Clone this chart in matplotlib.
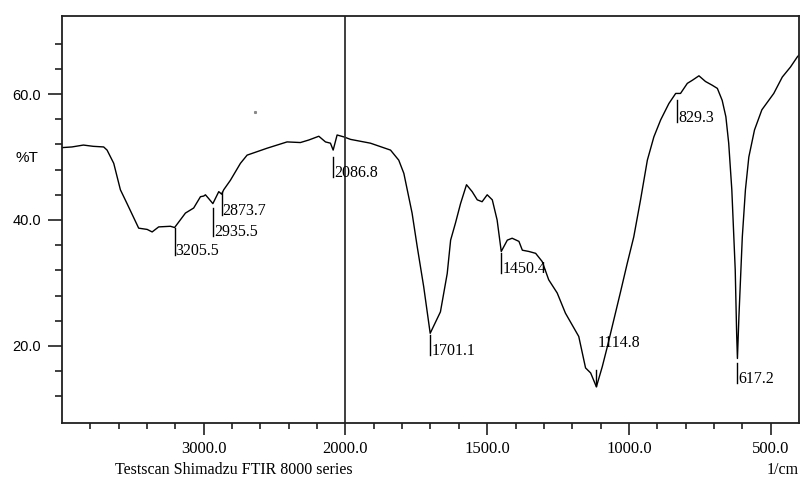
import numpy as np
import matplotlib
matplotlib.use("Agg")
import matplotlib.pyplot as plt
from matplotlib.ticker import FixedLocator, FixedFormatter
from matplotlib.transforms import offset_copy

# ---------------- data ----------------
wavenumber = [3996, 3930, 3849, 3780, 3706, 3682, 3635, 3588, 3541, 3459, 3399, 3364,
              3318, 3235, 3205.5, 3129, 3071, 3023, 3000, 2988, 2965, 2935.5, 2894,
              2873.7, 2859, 2812, 2741, 2694, 2553, 2412, 2318, 2259, 2188, 2141, 2106,
              2086.8, 2059, 2012, 1982, 1912, 1841, 1812, 1794, 1765, 1747, 1724,
              1701.1, 1665, 1641, 1629, 1612, 1594, 1573, 1553, 1535, 1518, 1500, 1482,
              1465, 1450.4, 1429, 1412, 1388, 1376, 1353, 1329, 1306, 1283, 1253, 1224,
              1177, 1153, 1135, 1114.8, 1094, 1076, 1053, 1030, 1006, 983, 959, 935,
              912, 888, 859, 835, 818, 794, 776, 753, 730, 706, 688, 671, 658, 648, 637,
              625, 620, 617.2, 612, 600, 589, 577, 557, 531, 489, 459, 430, 406, 400]
transmittance = [51.5, 51.6, 51.9, 51.7, 51.6, 51.1, 49.0, 44.8, 42.6, 38.7, 38.5, 38.1,
                 38.9, 39.0, 38.8, 41.1, 41.9, 43.7, 43.8, 44.0, 43.4, 42.6, 44.5,
                 44.1, 44.8, 46.3, 49.0, 50.3, 51.4, 52.4, 52.3, 52.7, 53.3, 52.4, 52.2,
                 51.1, 53.5, 53.2, 52.8, 52.2, 51.1, 49.5, 47.4, 41.1, 35.8, 29.4,
                 22.0, 25.4, 31.5, 36.8, 39.5, 42.6, 45.6, 44.5, 43.2, 42.9, 44.0, 43.2,
                 40.0, 35.0, 36.8, 37.1, 36.6, 35.2, 35.0, 34.7, 33.4, 30.5, 28.4, 25.2,
                 21.5, 16.5, 15.7, 13.5, 16.7, 19.9, 24.2, 28.5, 33.1, 37.3, 43.2, 49.5,
                 53.2, 55.9, 58.5, 60.1, 60.1, 61.7, 62.2, 62.9, 62.0, 61.4, 60.9, 59.0,
                 56.4, 52.2, 44.8, 32.1, 22.0, 18.0, 24.6, 37.3, 44.8, 50.0, 54.3, 57.5,
                 60.1, 62.7, 64.3, 65.9, 66.2]

peak_labels = ["3205.5", "2935.5", "2873.7", "2086.8", "1701.1", "1450.4",
               "1114.8", "829.3", "617.2"]
peak_positions = [3205.5, 2935.5, 2873.7, 2086.8, 1701.1, 1450.4, 1114.8, 829.3, 617.2]

x_major = [3000, 2000, 1500, 1000, 500]
x_major_labels = ["3000.0", "2000.0", "1500.0", "1000.0", "500.0"]
y_major = [20, 40, 60]
y_major_labels = ["20.0", "40.0", "60.0"]

# label marker geometry (line top, line bottom, text baseline) in %T units
label_line_top = [38.7, 41.9, 44.4, 50.0, 21.7, 34.8, 16.2, 59.0, 17.3]
label_line_bot = [34.4, 37.5, 40.8, 46.8, 18.6, 31.6, 13.7, 55.6, 14.1]
label_text_y = [34.4, 37.5, 40.8, 46.8, 18.6, 31.6, 19.8, 55.6, 14.1]

# ---------------- scale: 2x expansion below 2000 1/cm ----------------
def fwd(w):
    w = np.asarray(w, dtype=float)
    return np.where(w > 2000, 2000 + (w - 2000) / 2.0, w)

def inv(u):
    u = np.asarray(u, dtype=float)
    return np.where(u > 2000, 2000 + (u - 2000) * 2.0, u)

fig = plt.figure(figsize=(8.0, 4.78), dpi=100)
ax = fig.add_axes([62 / 800, 1 - 422.7 / 478, (799 - 62) / 800, (422.7 - 16) / 478])
ax.set_xscale("function", functions=(fwd, inv))
ax.set_xlim(4000, 400)
ax.set_ylim(7.8, 72.4)

ax.plot(wavenumber, transmittance, color="black", lw=1.0)
ax.axvline(2000, color="#303030", lw=1.3)

# stray dot in original scan
ax.plot([2635], [57.2], marker="s", ms=1.2, color="#888888", ls="none")

serif = "Liberation Serif"
sans = "Liberation Sans"

tr = offset_copy(ax.transData, fig=fig, x=1.0, y=0, units="dots")
for lab, w, t0, t1, ty in zip(peak_labels, peak_positions, label_line_top,
                              label_line_bot, label_text_y):
    ax.plot([w, w], [t0, t1], color="black", lw=1.0)
    ax.text(w, ty, lab, transform=tr, ha="left", va="baseline",
            fontsize=11.5, family=serif, color="black")

for s in ax.spines.values():
    s.set_color("#202020")
    s.set_linewidth(1.3)

ax.xaxis.set_major_locator(FixedLocator(x_major))
ax.xaxis.set_major_formatter(FixedFormatter(x_major_labels))
x_minor = [w for w in list(range(3800, 2000, -200)) + list(range(1900, 400, -100))
           if w not in x_major]
ax.xaxis.set_minor_locator(FixedLocator(x_minor))

ax.yaxis.set_major_locator(FixedLocator(y_major))
ax.yaxis.set_major_formatter(FixedFormatter(y_major_labels))
y_minor = [v for v in range(12, 72, 4) if v not in y_major]
ax.yaxis.set_minor_locator(FixedLocator(y_minor))

ax.tick_params(axis="x", which="major", direction="out", length=8.5, width=1.2,
               color="#202020", pad=5)
ax.tick_params(axis="x", which="minor", direction="out", length=4.3, width=1.2,
               color="#202020")
ax.tick_params(axis="y", which="major", direction="out", length=10, width=1.2,
               color="#202020", pad=5)
ax.tick_params(axis="y", which="minor", direction="out", length=5, width=1.2,
               color="#202020")

for lab in ax.get_xticklabels():
    lab.set_fontfamily(serif)
    lab.set_fontsize(12)
for lab in ax.get_yticklabels():
    lab.set_fontfamily(sans)
    lab.set_fontsize(10.5)

fig.text(27 / 800, 1 - 158 / 478, "%T", ha="center", va="center",
         fontsize=11, family=sans)
fig.text(234 / 800, 1 - 470 / 478, "Testscan Shimadzu FTIR 8000 series",
         ha="center", va="center", fontsize=11.5, family=serif)
fig.text(799 / 800, 1 - 470 / 478, "1/cm", ha="right", va="center",
         fontsize=11.5, family=serif)

fig.savefig("out.png", dpi=100, facecolor="white")
